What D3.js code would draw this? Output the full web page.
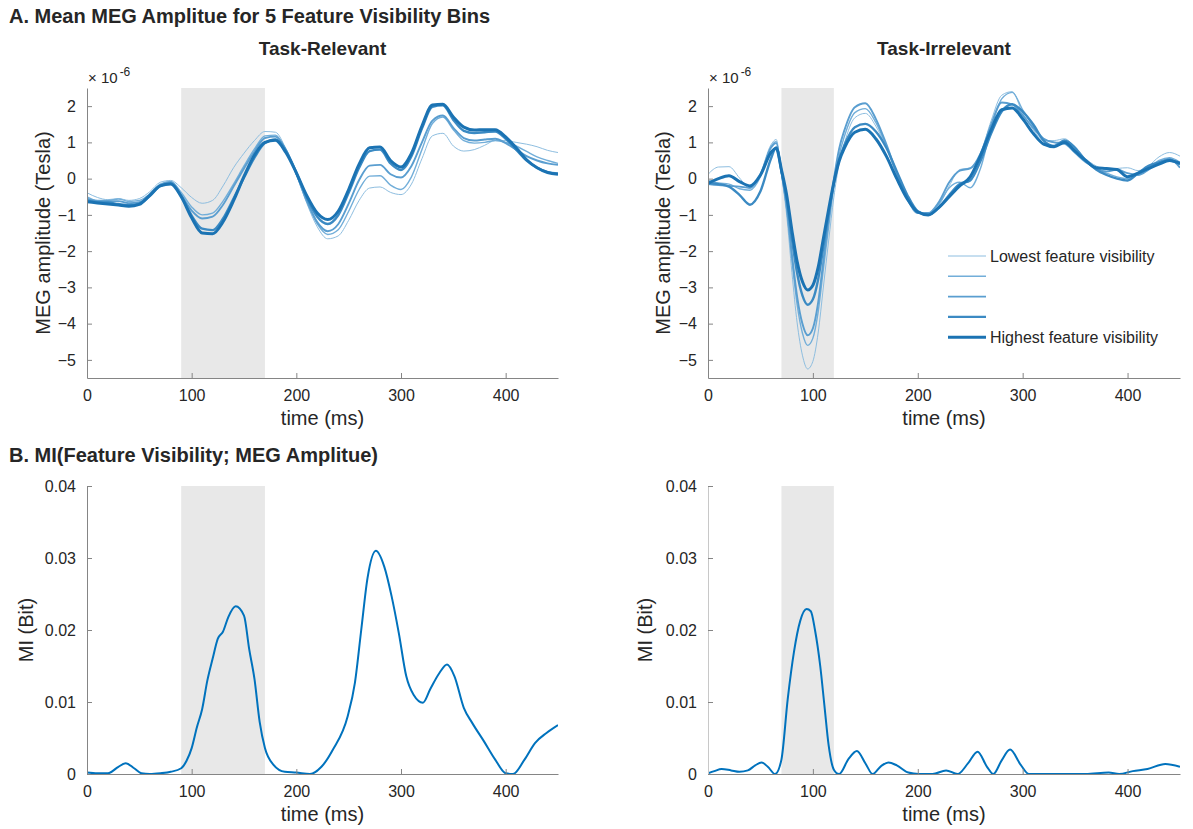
<!DOCTYPE html>
<html>
<head>
<meta charset="utf-8">
<script src="https://cdn.jsdelivr.net/npm/d3@7"></script>
<style>
  body { margin: 0; background: #fff; }
  text { font-family: "Liberation Sans", Arial, Helvetica, sans-serif; fill: #262626; }
</style>
</head>
<body>
<svg id="fig" width="1193" height="829"></svg>
<script>
// ---- data -------------------------------------------------------------
// Mean MEG amplitude (x 1e-6 T) per feature-visibility bin, task-relevant
const timeRel = [0,10,20,30,40,50,60,70,80,90,100,110,120,130,140,150,160,170,180,190,200,210,220,230,240,250,260,270,280,290,300,310,320,330,340,350,360,370,380,390,400,410,420,430,440,450];
const relBin1 = [-0.39,-0.52,-0.58,-0.55,-0.60,-0.55,-0.36,-0.10,-0.05,-0.25,-0.52,-0.68,-0.60,-0.20,0.30,0.70,1.05,1.30,1.28,0.82,0.11,-0.68,-1.33,-1.66,-1.58,-1.15,-0.60,-0.26,-0.23,-0.38,-0.44,-0.15,0.55,1.18,1.25,0.90,0.76,0.80,0.92,1.05,1.05,1.00,0.95,0.88,0.78,0.72];
const relBin2 = [-0.50,-0.60,-0.60,-0.56,-0.63,-0.60,-0.42,-0.15,-0.08,-0.38,-0.78,-1.00,-0.95,-0.62,-0.15,0.35,0.82,1.18,1.20,0.80,0.12,-0.64,-1.25,-1.54,-1.41,-0.90,-0.30,0.07,0.08,-0.18,-0.30,0.05,0.80,1.52,1.70,1.35,1.05,0.98,1.00,1.05,1.00,0.90,0.75,0.60,0.50,0.42];
const relBin3 = [-0.55,-0.62,-0.62,-0.62,-0.68,-0.65,-0.45,-0.18,-0.10,-0.45,-0.88,-1.10,-1.05,-0.72,-0.22,0.28,0.75,1.12,1.16,0.80,0.14,-0.60,-1.20,-1.45,-1.26,-0.69,-0.04,0.36,0.38,0.12,0.03,0.35,1.00,1.60,1.74,1.40,1.12,1.05,1.08,1.10,0.98,0.80,0.62,0.50,0.42,0.38];
const relBin4 = [-0.60,-0.65,-0.66,-0.70,-0.73,-0.69,-0.48,-0.20,-0.13,-0.48,-1.02,-1.38,-1.42,-1.10,-0.55,0.03,0.58,0.98,1.08,0.77,0.17,-0.52,-1.05,-1.25,-1.01,-0.39,0.30,0.76,0.80,0.42,0.24,0.62,1.38,1.98,2.02,1.62,1.32,1.26,1.28,1.30,1.10,0.80,0.50,0.30,0.18,0.14];
const relBin5 = [-0.64,-0.67,-0.70,-0.73,-0.76,-0.71,-0.46,-0.20,-0.15,-0.50,-1.08,-1.50,-1.52,-1.19,-0.61,0.06,0.65,1.00,1.06,0.72,0.16,-0.47,-0.95,-1.13,-0.90,-0.30,0.40,0.85,0.87,0.50,0.32,0.70,1.45,2.03,2.05,1.70,1.42,1.34,1.35,1.35,1.15,0.85,0.52,0.30,0.17,0.12];

// Same measure, task-irrelevant (denser sampling around the early dip)
const timeIrr = [0,10,20,30,40,50,60,65,70,75,80,85,90,95,100,105,110,115,120,125,130,140,150,160,170,180,190,200,210,220,230,240,250,260,270,280,290,300,310,320,330,340,350,360,370,380,390,400,410,420,430,440,450];
const irrBin1 = [0.12,0.32,0.33,0.02,-0.28,0.15,0.93,1.08,0.13,-1.01,-2.59,-3.98,-4.87,-5.25,-5.04,-4.26,-2.99,-1.72,-0.51,0.41,0.97,1.68,1.80,1.45,0.85,0.10,-0.50,-0.90,-1.00,-0.75,-0.20,0.25,0.30,0.70,1.60,2.30,2.40,1.80,1.35,1.05,1.05,1.10,0.85,0.55,0.35,0.25,0.28,0.30,0.22,0.35,0.60,0.72,0.62];
const irrBin2 = [-0.05,-0.12,-0.15,-0.28,-0.32,0.05,0.88,1.02,0.18,-0.83,-2.24,-3.48,-4.26,-4.60,-4.40,-3.68,-2.50,-1.33,-0.21,0.64,1.16,1.82,1.93,1.55,0.90,0.12,-0.52,-0.90,-0.98,-0.70,-0.25,-0.10,-0.25,0.30,1.40,2.20,2.38,1.90,1.45,1.10,1.00,0.95,0.70,0.45,0.30,0.15,0.05,0.00,0.12,0.30,0.50,0.58,0.45];
const irrBin3 = [-0.15,-0.18,-0.20,-0.22,-0.25,0.10,0.85,0.98,0.18,-0.77,-2.09,-3.26,-4.00,-4.32,-4.13,-3.42,-2.27,-1.11,-0.02,0.82,1.33,1.97,2.08,1.65,0.95,0.15,-0.55,-0.95,-0.95,-0.65,-0.10,0.22,0.28,0.70,1.50,2.10,2.05,1.75,1.40,1.10,1.00,0.98,0.78,0.50,0.28,0.20,0.25,0.15,0.10,0.25,0.45,0.55,0.30];
const irrBin4 = [-0.12,-0.15,-0.22,-0.45,-0.72,-0.35,0.55,0.86,0.21,-0.57,-1.66,-2.61,-3.22,-3.48,-3.33,-2.78,-1.88,-0.98,-0.13,0.52,0.92,1.42,1.51,1.30,0.85,0.20,-0.45,-0.90,-1.00,-0.80,-0.45,-0.15,-0.05,0.50,1.25,1.85,2.05,1.85,1.50,1.05,0.90,1.05,0.85,0.50,0.25,0.10,0.00,-0.05,0.15,0.35,0.45,0.50,0.40];
const irrBin5 = [-0.13,0.00,0.08,-0.08,-0.20,0.10,0.72,0.84,0.25,-0.45,-1.43,-2.29,-2.84,-3.07,-2.94,-2.45,-1.65,-0.85,-0.10,0.48,0.84,1.28,1.36,1.10,0.62,0.00,-0.56,-0.92,-1.00,-0.80,-0.50,-0.20,0.05,0.65,1.35,1.90,1.95,1.65,1.25,0.95,0.88,1.00,0.75,0.50,0.30,0.28,0.25,0.05,0.15,0.28,0.40,0.50,0.42];

// Mutual information between feature visibility and MEG amplitude (bit)
const timeMiRel = [0,10,20,30,37,45,52,60,70,80,90,95,100,105,110,115,120,125,130,135,142,150,155,160,165,170,178,189,200,213,224,235,249,256,262,268,276,284,291,298,305,312,321,328,337,344,351,360,368,379,390,400,407,418,428,439,450];
const miRel = [0.0002,0.0001,0.0001,0.0010,0.0015,0.0008,0.0001,0.0000,0.0001,0.0003,0.0008,0.0018,0.0036,0.0065,0.0090,0.0130,0.0160,0.0188,0.0198,0.0218,0.0233,0.0220,0.0173,0.0132,0.0072,0.0036,0.0013,0.0003,0.0002,0.0000,0.0010,0.0034,0.0080,0.0127,0.0200,0.0272,0.0310,0.0288,0.0247,0.0195,0.0136,0.0110,0.0099,0.0118,0.0141,0.0152,0.0136,0.0092,0.0071,0.0046,0.0020,0.0001,0.0000,0.0020,0.0043,0.0057,0.0068];
const timeMiIrr = [0,6,13,22,30,38,45,51,57,64,70,76,82,88,94,98,102,107,111,115,120,125,134,142,150,157,165,172,180,191,201,214,227,238,248,257,266,272,280,288,298,306,330,360,382,392,405,419,436,450];
const miIrr = [0.0001,0.0004,0.0007,0.0005,0.0003,0.0005,0.0012,0.0016,0.0010,0.0000,0.0020,0.0104,0.0170,0.0213,0.0229,0.0226,0.0200,0.0150,0.0095,0.0040,0.0006,0.0000,0.0021,0.0032,0.0015,0.0000,0.0011,0.0016,0.0012,0.0002,0.0000,0.0000,0.0005,0.0000,0.0015,0.0031,0.0010,0.0000,0.0019,0.0034,0.0013,0.0000,0.0000,0.0000,0.0002,0.0000,0.0004,0.0007,0.0014,0.0010];

// Axis ticks, shaded windows and legend text
const timeTicks = [0, 100, 200, 300, 400];
const ampTicks = [-5, -4, -3, -2, -1, 0, 1, 2];
const miTicks = [0, 0.01, 0.02, 0.03, 0.04];
const windowRel = [90, 170];
const windowIrr = [70, 120];
const binLabels = ["Lowest feature visibility", "", "", "", "Highest feature visibility"];

// ---- styling ----------------------------------------------------------
const binColors = ["#8ebee0", "#72aed9", "#5a9ed0", "#3b8ac3", "#1b73b3"];
const binWidths = [1, 1.4, 1.9, 2.4, 3];
const axisColor = "#858585";
const miColor = "#0072bd";
const tickFont = "16px";
const labelFont = "20px";

const svg = d3.select("#fig");

// panel boxes
const boxes = {
  tl: { x0: 87, x1: 558, y0: 88, y1: 378 },
  tr: { x0: 708, x1: 1180, y0: 88, y1: 378 },
  bl: { x0: 87, x1: 558, y0: 486, y1: 774 },
  br: { x0: 708, x1: 1180, y0: 486, y1: 774 }
};

function drawPanel(box, opts) {
  const x = d3.scaleLinear().domain([0, 450]).range([box.x0, box.x1]);
  const y = d3.scaleLinear().domain(opts.yDomain).range([box.y1, box.y0]);
  const g = svg.append("g");

  // highlighted time window
  g.append("rect")
    .attr("x", x(opts.window[0])).attr("y", box.y0)
    .attr("width", x(opts.window[1]) - x(opts.window[0]))
    .attr("height", box.y1 - box.y0)
    .attr("fill", "#e8e8e8");

  // traces
  const clipId = "clip" + Math.round(box.x0) + "_" + Math.round(box.y0);
  g.append("clipPath").attr("id", clipId).append("rect")
    .attr("x", box.x0).attr("y", box.y0 - 2)
    .attr("width", box.x1 - box.x0).attr("height", box.y1 - box.y0 + 2);
  const line = d3.line().curve(d3.curveMonotoneX)
    .x(d => x(d[0])).y(d => y(d[1]));
  opts.series.forEach(s => {
    g.append("path")
      .attr("clip-path", `url(#${clipId})`)
      .attr("d", line(opts.time.map((t, i) => [t, s.values[i]])))
      .attr("fill", "none")
      .attr("stroke", s.color)
      .attr("stroke-width", s.width)
      .attr("stroke-linejoin", "round");
  });

  // axes (ticks point inwards)
  const xAxis = d3.axisBottom(x).tickValues(timeTicks)
    .tickSizeInner(-5).tickSizeOuter(0).tickPadding(12);
  const gx = g.append("g").attr("transform", `translate(0,${box.y1})`).call(xAxis);
  const yAxis = d3.axisLeft(y).tickValues(opts.yTicks)
    .tickFormat(opts.yFormat)
    .tickSizeInner(-5).tickSizeOuter(0).tickPadding(11);
  const gy = g.append("g").attr("transform", `translate(${box.x0},0)`).call(yAxis);
  [gx, gy].forEach(a => {
    a.select(".domain").attr("stroke", axisColor);
    a.selectAll(".tick line").attr("stroke", axisColor);
    a.selectAll(".tick text").attr("fill", "#262626")
      .style("font-size", tickFont)
      .style("font-family", '"Liberation Sans", Arial, sans-serif');
  });
  if (opts.yAxisStroke) gy.select(".domain").attr("stroke", opts.yAxisStroke);

  // axis labels
  const cx = (box.x0 + box.x1) / 2;
  g.append("text").attr("x", cx).attr("y", box.y1 + 47)
    .attr("text-anchor", "middle").style("font-size", labelFont).text("time (ms)");
  const cy = (box.y0 + box.y1) / 2;
  g.append("text")
    .attr("transform", `translate(${opts.ylabelX},${cy}) rotate(-90)`)
    .attr("text-anchor", "middle").style("font-size", labelFont).text(opts.ylabel);

  if (opts.title) {
    g.append("text").attr("x", cx).attr("y", 55)
      .attr("text-anchor", "middle")
      .style("font-size", "19px").style("font-weight", "bold")
      .text(opts.title);
  }
  if (opts.exponent) {
    const t = g.append("text").attr("x", box.x0 + 1).attr("y", box.y0 - 5)
      .style("font-size", "15px");
    t.append("tspan").text("\u00d7 10");
    t.append("tspan").attr("dx", 2).attr("dy", -7).style("font-size", "12px").text("-6");
  }
  return { x, y, g };
}

function binSeries(arrays) {
  return arrays.map((v, i) => ({ values: v, color: binColors[i], width: binWidths[i] }));
}

// figure headings
svg.append("text").attr("x", 9).attr("y", 23)
  .style("font-size", "20px").style("font-weight", "bold")
  .text("A. Mean MEG Amplitue for 5 Feature Visibility Bins");
svg.append("text").attr("x", 9).attr("y", 462)
  .style("font-size", "20px").style("font-weight", "bold")
  .text("B. MI(Feature Visibility; MEG Amplitue)");

// A: mean amplitude per visibility bin
drawPanel(boxes.tl, {
  yDomain: [-5.5, 2.5], yTicks: ampTicks, yFormat: d3.format("d"),
  window: windowRel, time: timeRel,
  series: binSeries([relBin1, relBin2, relBin3, relBin4, relBin5]),
  ylabel: "MEG amplitude (Tesla)", ylabelX: 50,
  title: "Task-Relevant", exponent: true
});
drawPanel(boxes.tr, {
  yDomain: [-5.5, 2.5], yTicks: ampTicks, yFormat: d3.format("d"),
  window: windowIrr, time: timeIrr,
  series: binSeries([irrBin1, irrBin2, irrBin3, irrBin4, irrBin5]),
  ylabel: "MEG amplitude (Tesla)", ylabelX: 670,
  title: "Task-Irrelevant", exponent: true
});

// legend inside the task-irrelevant panel
const legendRows = [256, 276.3, 296.6, 316.9, 337.2];
const legend = svg.append("g");
binLabels.forEach((lab, i) => {
  legend.append("line")
    .attr("x1", 948).attr("x2", 986)
    .attr("y1", legendRows[i]).attr("y2", legendRows[i])
    .attr("stroke", binColors[i]).attr("stroke-width", binWidths[i]);
  if (lab) {
    legend.append("text").attr("x", 990).attr("y", legendRows[i])
      .attr("dy", "0.35em").style("font-size", tickFont).text(lab);
  }
});

// B: mutual information
const miFmt = d => (d === 0 ? "0" : d3.format(".2f")(d));
drawPanel(boxes.bl, {
  yDomain: [0, 0.04], yTicks: miTicks, yFormat: miFmt,
  window: windowRel, time: timeMiRel,
  series: [{ values: miRel, color: miColor, width: 2 }],
  ylabel: "MI (Bit)", ylabelX: 33
});
drawPanel(boxes.br, {
  yDomain: [0, 0.04], yTicks: miTicks, yFormat: miFmt,
  window: windowIrr, time: timeMiIrr,
  series: [{ values: miIrr, color: miColor, width: 2 }],
  ylabel: "MI (Bit)", ylabelX: 652, yAxisStroke: "#c8c8c8"
});
</script>
</body>
</html>
